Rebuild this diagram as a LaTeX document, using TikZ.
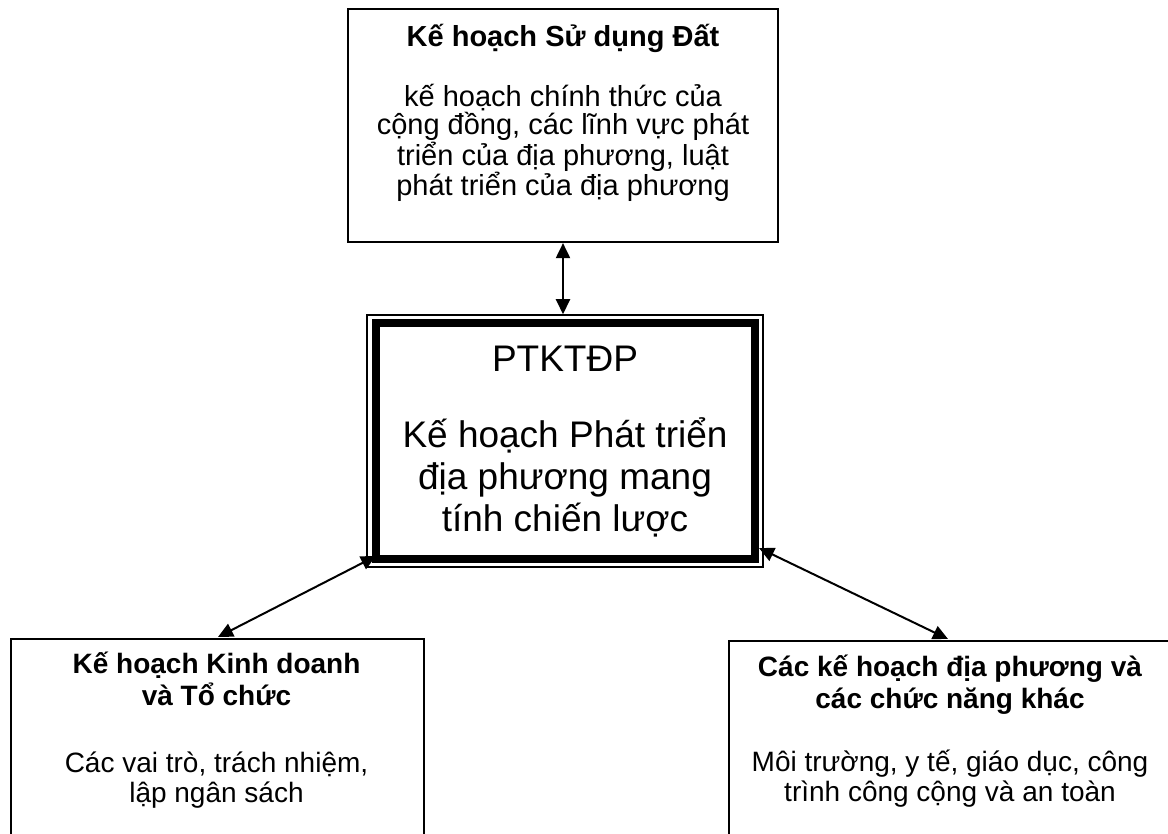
\documentclass[tikz,border=0pt]{standalone}
\usepackage{fontspec}
\setmainfont{Liberation Sans}
\usetikzlibrary{arrows.meta}
\begin{document}
\begin{tikzpicture}[x=1pt,y=-1pt,
  box/.style={draw, line width=2.2pt, inner sep=0pt},
  link/.style={line width=2pt,
    {Triangle[length=15pt,width=14pt]}-{Triangle[length=15pt,width=14pt]}},
  % multi-line texts are placed by the baseline of their last line
  txt/.style={inner sep=0pt, align=center, anchor=base},
  titlefont/.style={font=\bfseries\fontsize{29}{31}\selectfont},
  bodyfont/.style={font=\fontsize{29}{28.5}\selectfont},
  smalltitle/.style={font=\bfseries\fontsize{28}{32}\selectfont},
  smallbody/.style={font=\fontsize{28}{30}\selectfont},
  bigfont/.style={font=\fontsize{37}{42}\selectfont}]
\useasboundingbox (0,0) rectangle (1168,834);
\clip (0,0) rectangle (1168,834);

% boxes
\node[box, minimum width=430pt, minimum height=233pt] (landuse) at (563,125.5) {};
\node[draw, line width=1.5pt, inner sep=0pt, minimum width=396pt, minimum height=252pt] (core) at (565,441) {};
\node[draw, line width=8pt, inner sep=0pt, minimum width=379pt, minimum height=235pt] (coreframe) at (565,441) {};
\node[box, anchor=north west, minimum width=413pt, minimum height=260pt] (business) at (10,638) {};
\node[box, anchor=north west, minimum width=450pt, minimum height=260pt] (local) at (728,640) {};

% texts
\node[txt, titlefont] (landusetitle) at (563,47) {Kế hoạch Sử dụng Đất};
\node[txt, bodyfont] (landusebody) at (563,195.5) {kế hoạch chính thức của\\cộng đồng, các lĩnh vực phát\\triển của địa phương, luật\\phát triển của địa phương};

\node[txt, bigfont] (coretitle) at (565,372) {PTKTĐP};
\node[txt, bigfont] (corebody) at (565,531) {Kế hoạch Phát triển\\địa phương mang\\tính chiến lược};

\node[txt, smalltitle] (businesstitle) at (216.5,705) {Kế hoạch Kinh doanh\\và Tổ chức};
\node[txt, smallbody] (businessbody) at (216.5,802) {Các vai trò, trách nhiệm,\\lập ngân sách};

\node[txt, smalltitle] (localtitle) at (950,708) {Các kế hoạch địa phương và\\các chức năng khác};
\node[txt, smallbody] (localbody) at (950,801) {Môi trường, y tế, giáo dục, công\\trình công cộng và an toàn};

% connector end points
\coordinate (corebl) at (376,556);
\coordinate (corebr) at (759,548);
\coordinate (businesstop) at (218,637);
\coordinate (localtop) at (948,639);

% connectors
\draw[link] (landuse.south) -- (landuse.south |- core.north);
\draw[link] (corebl) -- (businesstop);
\draw[link] (corebr) -- (localtop);
\end{tikzpicture}
\end{document}
